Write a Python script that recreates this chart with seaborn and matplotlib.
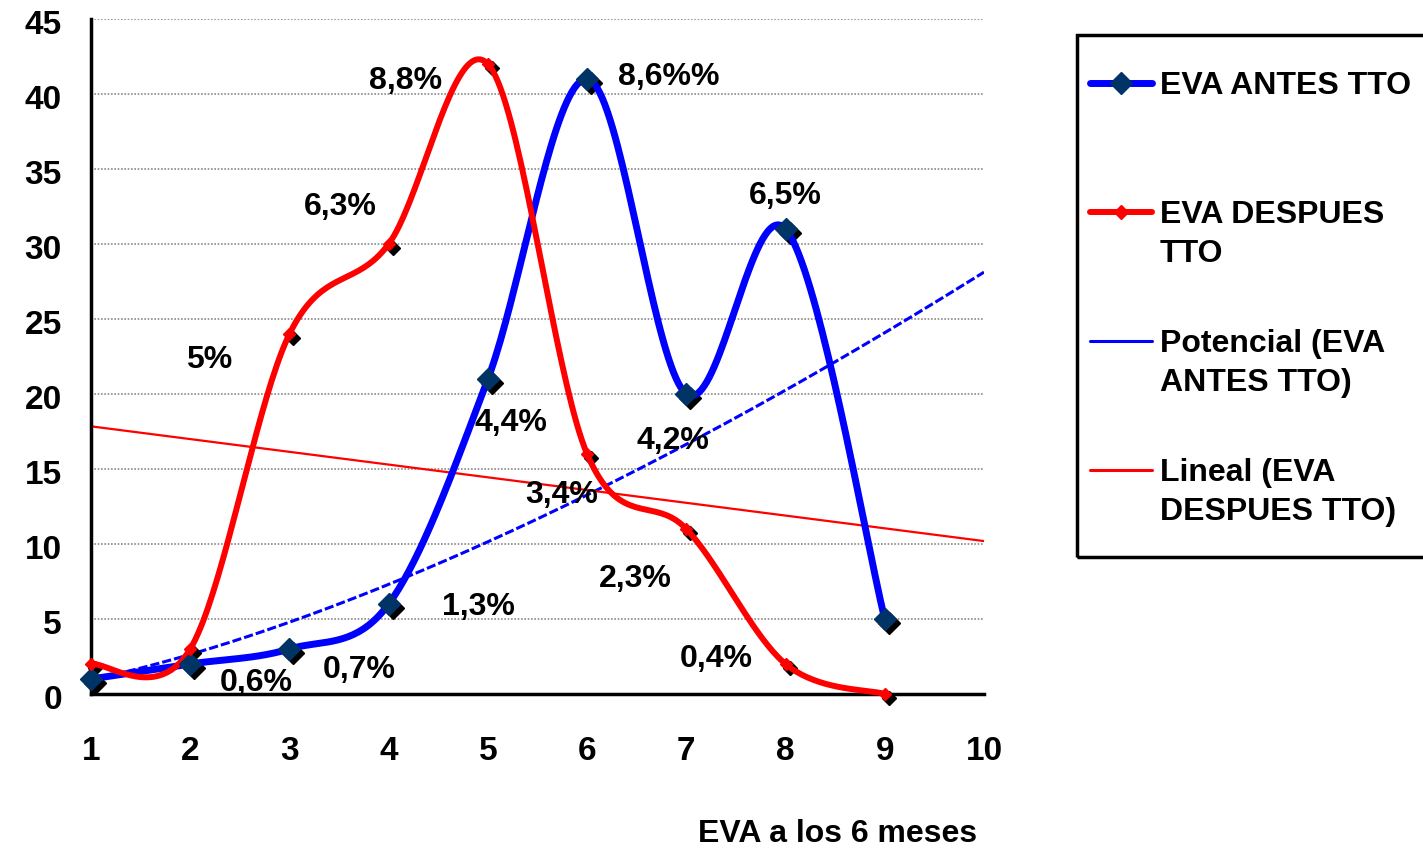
import numpy as np
import pandas as pd
import matplotlib
matplotlib.use("Agg")
import matplotlib.pyplot as plt
import matplotlib.transforms as mtransforms
from matplotlib.lines import Line2D
from matplotlib.patches import Rectangle
import seaborn as sns

# ---------------- data ----------------
months = [1, 2, 3, 4, 5, 6, 7, 8, 9]
eva_antes = [1, 2, 3, 6, 21, 41, 20, 31, 5]
eva_despues = [2, 3, 24, 30, 42, 16, 11, 2, 0]
pct_labels = ["8,8%", "8,6%%", "6,5%", "6,3%", "5%", "4,4%", "4,2%", "3,4%",
              "2,3%", "1,3%", "0,7%", "0,6%", "0,4%"]
legend_labels = ["EVA ANTES TTO", "EVA DESPUES\nTTO",
                 "Potencial (EVA\nANTES TTO)", "Lineal (EVA\nDESPUES TTO)"]
x_ticks = [1, 2, 3, 4, 5, 6, 7, 8, 9, 10]
y_ticks = [0, 5, 10, 15, 20, 25, 30, 35, 40, 45]
x_label = "EVA a los 6 meses"

# label positions (layout, data coordinates)
label_pos = [(4.17, 40.9), (6.82, 41.1), (8.0, 33.2), (3.51, 32.5), (2.19, 22.3),
             (5.23, 18.1), (6.86, 16.9), (5.74, 13.3), (6.49, 7.7), (4.90, 5.8),
             (3.70, 1.6), (2.67, 0.73), (7.30, 2.3)]

sns.set_style("white")
plt.rcParams['font.family'] = ['Liberation Sans', 'DejaVu Sans']
plt.rcParams['font.weight'] = 'bold'
plt.rcParams['text.color'] = 'black'
plt.rcParams['xtick.color'] = 'black'
plt.rcParams['ytick.color'] = 'black'
plt.rcParams['axes.labelcolor'] = 'black'

W, H = 1423, 848
fig = plt.figure(figsize=(W / 100, H / 100), dpi=100)
ax = fig.add_axes([91 / W, 1 - 694 / H, (984 - 91) / W, (694 - 19) / H])


def smooth(xs, ys, n=40):
    P = np.column_stack([xs, ys]).astype(float)
    out = []
    for i in range(len(P) - 1):
        p0, p3 = P[i], P[i + 1]
        pm = P[i - 1] if i > 0 else P[i]
        pp = P[i + 2] if i + 2 < len(P) else P[i + 1]
        c1 = p0 + (p3 - pm) / 6
        c2 = p3 - (pp - p0) / 6
        t = np.linspace(0, 1, n)[:, None]
        seg = (1 - t) ** 3 * p0 + 3 * (1 - t) ** 2 * t * c1 + 3 * (1 - t) * t ** 2 * c2 + t ** 3 * p3
        out.append(seg if i == 0 else seg[1:])
    return np.vstack(out)


BLUE = "#0000FF"
RED = "#FF0000"
NAVY = "#003366"

# trendlines
xt = np.linspace(1, 10, 200)
b, loga = np.polyfit(np.log(months), np.log(eva_antes), 1)
pot = np.exp(loga) * xt ** b
m, c = np.polyfit(months, eva_despues, 1)
lin = m * xt + c

sns.lineplot(x=xt, y=pot, ax=ax, color=BLUE, lw=2.2, linestyle=(0, (3, 1)), zorder=2)
sns.lineplot(x=xt, y=lin, ax=ax, color=RED, lw=1.6, zorder=2)

sa = smooth(months, eva_antes)
sd = smooth(months, eva_despues)

# shadows
shadow = mtransforms.offset_copy(ax.transData, fig=fig, x=4, y=-4, units='dots')
ax.plot(months, eva_antes, linestyle='none', marker='D', ms=11.5, color='black',
        transform=shadow, zorder=3, clip_on=False)
ax.plot(months, eva_despues, linestyle='none', marker='D', ms=7, color='black',
        transform=shadow, zorder=3, clip_on=False)

sns.lineplot(x=sa[:, 0], y=sa[:, 1], ax=ax, sort=False, color=BLUE, lw=5, zorder=4)
sns.lineplot(x=sd[:, 0], y=sd[:, 1], ax=ax, sort=False, color=RED, lw=4.3, zorder=5)
for ln in ax.lines[-2:]:
    ln.set_solid_capstyle('round')
    ln.set_clip_on(False)

ax.plot(months, eva_antes, linestyle='none', marker='D', ms=11.5, color=NAVY,
        zorder=6, clip_on=False)
ax.plot(months, eva_despues, linestyle='none', marker='D', ms=6, color=RED,
        zorder=6, clip_on=False)

for txt, (px, py) in zip(pct_labels, label_pos):
    ax.text(px, py, txt, ha='center', va='center', fontsize=23, fontweight='bold',
            color='black', zorder=7)

ax.set_xlim(1, 10)
ax.set_ylim(0, 45)
ax.set_xticks(x_ticks)
ax.set_yticks(y_ticks)
ax.set_xticklabels([str(v) for v in x_ticks], fontsize=24, fontweight='bold')
ax.set_yticklabels([str(v) for v in y_ticks], fontsize=24, fontweight='bold')
ax.tick_params(axis='x', direction='out', length=9, width=2.5, pad=21, color='black')
ax.tick_params(axis='y', direction='out', length=8, width=2.5, pad=13, color='black')
down = mtransforms.ScaledTranslation(0, -3 / 100, fig.dpi_scale_trans)
for lbl in ax.get_yticklabels():
    lbl.set_transform(lbl.get_transform() + down)
ax.yaxis.grid(True, color='#8a8a8a', linestyle=(0, (1, 1)), lw=1.2)
ax.xaxis.grid(False)
ax.set_axisbelow(True)
for s in ['top', 'right']:
    ax.spines[s].set_visible(False)
for s in ['left', 'bottom']:
    ax.spines[s].set_linewidth(2.5)
    ax.spines[s].set_color('black')
ax.set_xlabel("")
ax.set_ylabel("")

fig.text(838 / W, 1 - 834 / H, x_label, ha='center', va='center', fontsize=23,
         fontweight='bold')

# legend (manual layout)
fig.add_artist(Rectangle((1077 / W, 1 - 557 / H), (1440 - 1077) / W, (557 - 35) / H,
                         transform=fig.transFigure, fill=False, lw=2.5,
                         edgecolor='black', clip_on=False))
handles = [dict(color=BLUE, lw=5, marker='D', ms=11.5, mfc=NAVY, mec=NAVY),
           dict(color=RED, lw=4.3, marker='D', ms=7, mfc=RED, mec=RED),
           dict(color=BLUE, lw=2.2, marker=None),
           dict(color=RED, lw=2.2, marker=None)]
for i, (lab, hs) in enumerate(zip(legend_labels, handles)):
    yfirst = 83 + 129 * i
    fy = 1 - yfirst / H
    kw = dict(hs)
    mk = kw.pop('marker')
    fig.add_artist(Line2D([1090 / W, 1152 / W], [fy, fy], transform=fig.transFigure,
                          color=kw['color'], lw=kw['lw']))
    if mk:
        fig.add_artist(Line2D([1121 / W], [fy], transform=fig.transFigure, marker=mk,
                              ms=kw['ms'], mfc=kw['mfc'], mec=kw['mec'], linestyle='none'))
    fig.text(1160 / W, 1 - (yfirst - 12) / H, lab, ha='left', va='top', fontsize=23,
             fontweight='bold', linespacing=1.37,
             transform=fig.transFigure)

fig.savefig("out.png", dpi=100)
